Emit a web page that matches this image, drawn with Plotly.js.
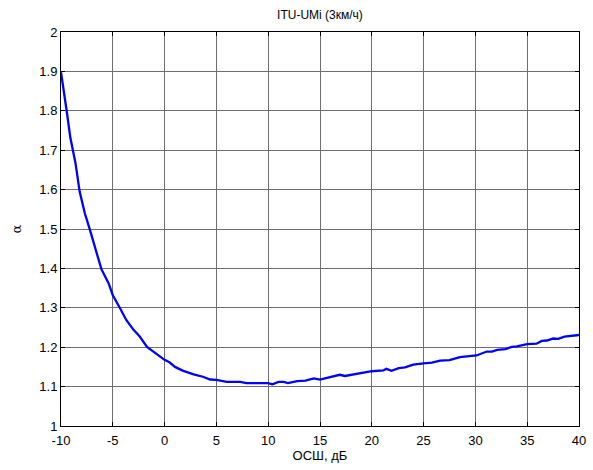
<!DOCTYPE html>
<html>
<head>
<meta charset="utf-8">
<script src="https://cdn.plot.ly/plotly-3.0.1.min.js"></script>
<style>html,body{margin:0;padding:0;background:#fff;}#chart{width:593px;height:470px;}</style>
</head>
<body>
<div id="chart"></div>
<script>
const chartTitle = "ITU-UMi (3км/ч)";
const xLabel = "ОСШ, дБ";
const yLabel = "α";
const snrDb = [-10, -9.6, -9.4, -9.1, -8.6, -8.2, -7.7, -7.2, -6.7, -6.4, -6.1, -5.4, -5.0, -4.3, -3.7, -3.0, -2.4, -1.7, -0.9, 0, 0.5, 1, 1.8, 2.8, 3.7, 4.4, 5, 6, 7.3, 7.9, 10, 10.4, 11, 11.5, 11.9, 12.8, 13.6, 14.4, 15, 16, 16.9, 17.4, 18.4, 20, 21.1, 21.4, 21.9, 22.6, 23.2, 24, 25, 25.8, 26.6, 27.5, 28.5, 29.2, 30.1, 31.1, 31.6, 32.1, 32.9, 33.5, 34, 35, 35.9, 36.4, 36.9, 37.5, 38, 38.6, 39.4, 40];
const alpha = [1.898, 1.817, 1.790, 1.732, 1.667, 1.595, 1.540, 1.497, 1.452, 1.421, 1.398, 1.362, 1.332, 1.299, 1.269, 1.244, 1.227, 1.201, 1.185, 1.168, 1.161, 1.150, 1.140, 1.131, 1.125, 1.118, 1.117, 1.112, 1.112, 1.109, 1.109, 1.106, 1.112, 1.112, 1.109, 1.114, 1.115, 1.121, 1.118, 1.124, 1.130, 1.127, 1.131, 1.139, 1.141, 1.145, 1.140, 1.147, 1.149, 1.156, 1.159, 1.161, 1.166, 1.167, 1.175, 1.177, 1.179, 1.189, 1.189, 1.193, 1.195, 1.201, 1.202, 1.208, 1.209, 1.216, 1.217, 1.222, 1.221, 1.227, 1.229, 1.231];
const xTicks = [-10, -5, 0, 5, 10, 15, 20, 25, 30, 35, 40];
const yTicks = [1, 1.1, 1.2, 1.3, 1.4, 1.5, 1.6, 1.7, 1.8, 1.9, 2];

const font = {family: "Liberation Sans, Arial, sans-serif", size: 13, color: "#000"};
const axisCommon = {
  showline: true, linecolor: "#000", linewidth: 1, mirror: "allticks",
  ticks: "inside", ticklen: 4, tickcolor: "#000",
  showgrid: true, gridcolor: "#6e6e6e", gridwidth: 1,
  zeroline: false, tickfont: font, fixedrange: true
};
Plotly.newPlot("chart", [{
  x: snrDb, y: alpha, type: "scatter", mode: "lines",
  line: {color: "#0000ff", width: 2.3}, hoverinfo: "skip"
}], {
  width: 593, height: 470,
  margin: {l: 61, r: 14, t: 32, b: 44},
  paper_bgcolor: "#fff", plot_bgcolor: "#fff",
  font: font, showlegend: false,
  title: {text: chartTitle, font: {family: font.family, size: 12, color: "#000"}, x: 0.5396, xanchor: "center", y: 0.968, yanchor: "middle"},
  xaxis: Object.assign({}, axisCommon, {range: [-10, 40], tickvals: xTicks, ticktext: xTicks.map(String),
    ticklabelstandoff: 2,
    title: {text: xLabel, font: font, standoff: 4}}),
  yaxis: Object.assign({}, axisCommon, {range: [1, 2], tickvals: yTicks, ticktext: yTicks.map(v => String(Math.round(v*10)/10)),
    title: {text: yLabel, font: {family: "DejaVu Serif, serif", size: 13, color: "#000"}, standoff: 14}})
}, {staticPlot: true});
</script>
</body>
</html>
